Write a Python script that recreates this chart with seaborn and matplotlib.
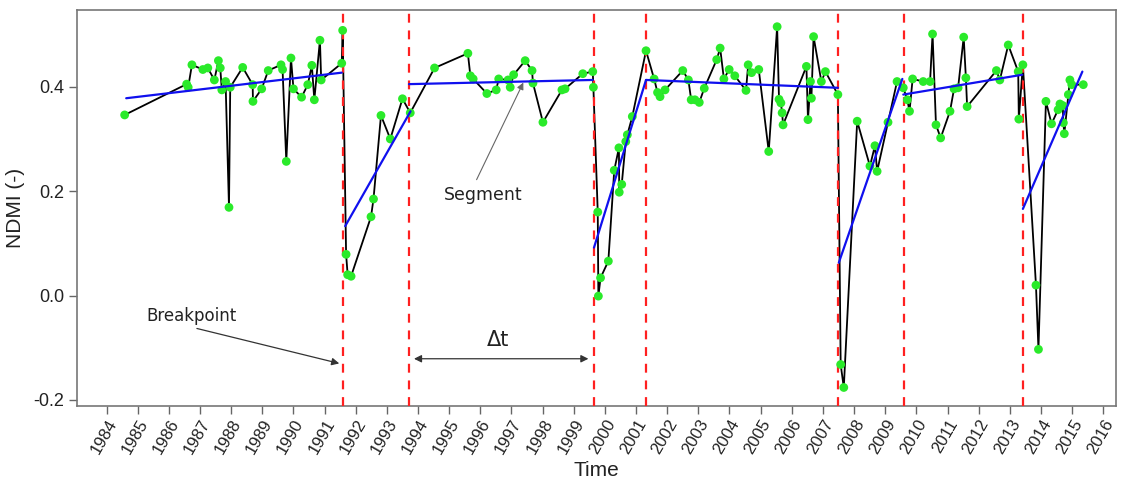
import matplotlib
matplotlib.use("Agg")
import matplotlib.pyplot as plt
import seaborn as sns
import pandas as pd

# ---- data ----
dates = [1984.58, 1986.57, 1986.62, 1986.74, 1987.09, 1987.25, 1987.46, 1987.59, 1987.65, 1987.70,
         1987.82, 1987.93, 1987.97, 1988.37, 1988.69, 1988.70, 1988.98, 1989.19, 1989.60, 1989.65,
         1989.77, 1989.92, 1990.00, 1990.26, 1990.46, 1990.59, 1990.67, 1990.85, 1990.89, 1991.55,
         1991.58,
         1991.69, 1991.74, 1991.85, 1992.49, 1992.57, 1992.81, 1993.11, 1993.50, 1993.75,
         1994.53, 1995.60, 1995.68, 1995.77, 1996.21, 1996.51, 1996.59, 1996.89, 1996.96, 1997.07,
         1997.44, 1997.66, 1997.69, 1998.01, 1998.62, 1998.72, 1999.29, 1999.61, 1999.63,
         1999.77, 1999.79, 1999.86, 2000.11, 2000.30, 2000.45, 2000.46, 2000.54, 2000.67, 2000.72,
         2000.88, 2001.32,
         2001.58, 2001.69, 2001.77, 2001.93, 2002.50, 2002.68, 2002.77, 2002.89, 2003.03, 2003.19,
         2003.59, 2003.70, 2003.82, 2003.99, 2004.17, 2004.53, 2004.60, 2004.71, 2004.94, 2005.26,
         2005.53, 2005.59, 2005.65, 2005.69, 2005.72, 2006.47, 2006.52, 2006.60, 2006.63, 2006.70,
         2006.95, 2007.08, 2007.48,
         2007.57, 2007.67, 2008.10, 2008.51, 2008.67, 2008.74, 2009.09, 2009.38,
         2009.58, 2009.71, 2009.78, 2009.88, 2010.22, 2010.44, 2010.52, 2010.63, 2010.78, 2011.08,
         2011.21, 2011.34, 2011.52, 2011.59, 2011.63, 2012.57, 2012.68, 2012.95, 2013.27, 2013.29,
         2013.42,
         2013.84, 2013.92, 2014.16, 2014.34, 2014.55, 2014.61, 2014.70, 2014.72, 2014.75, 2014.88,
         2014.93, 2014.99, 2015.36]
ndmi = [0.346, 0.405, 0.399, 0.442, 0.433, 0.436, 0.413, 0.450, 0.436, 0.394,
        0.410, 0.169, 0.399, 0.437, 0.404, 0.372, 0.396, 0.431, 0.442, 0.433,
        0.257, 0.455, 0.396, 0.380, 0.404, 0.441, 0.375, 0.489, 0.413, 0.445,
        0.508,
        0.079, 0.040, 0.037, 0.151, 0.185, 0.345, 0.300, 0.377, 0.350,
        0.436, 0.464, 0.421, 0.415, 0.387, 0.394, 0.415, 0.413, 0.399, 0.423,
        0.450, 0.431, 0.407, 0.332, 0.394, 0.396, 0.425, 0.429, 0.399,
        0.160, -0.001, 0.034, 0.066, 0.240, 0.283, 0.198, 0.213, 0.295, 0.308,
        0.343, 0.469,
        0.415, 0.389, 0.381, 0.394, 0.431, 0.413, 0.375, 0.375, 0.370, 0.397,
        0.452, 0.474, 0.415, 0.433, 0.421, 0.393, 0.442, 0.427, 0.433, 0.276,
        0.515, 0.376, 0.369, 0.350, 0.327, 0.439, 0.337, 0.410, 0.378, 0.496,
        0.410, 0.429, 0.385,
        -0.132, -0.176, 0.334, 0.248, 0.287, 0.238, 0.332, 0.410,
        0.398, 0.375, 0.353, 0.415, 0.410, 0.410, 0.501, 0.327, 0.302, 0.353,
        0.396, 0.398, 0.495, 0.417, 0.362, 0.431, 0.413, 0.480, 0.429, 0.338,
        0.442,
        0.020, -0.103, 0.372, 0.329, 0.356, 0.367, 0.364, 0.331, 0.310, 0.385,
        0.413, 0.404, 0.404]

breakpoints = [1991.59, 1993.71, 1999.65, 2001.32, 2007.48, 2009.60, 2013.41]

seg_start = [1984.63, 1991.66, 1993.71, 1999.65, 2001.32, 2007.51, 2009.58, 2013.42]
seg_end = [1991.55, 1993.76, 1999.61, 2001.32, 2007.48, 2009.55, 2013.40, 2015.33]
seg_y0 = [0.378, 0.133, 0.405, 0.092, 0.413, 0.063, 0.385, 0.166]
seg_y1 = [0.427, 0.353, 0.413, 0.413, 0.398, 0.415, 0.423, 0.429]

year_ticks = list(range(1984, 2017))
y_ticks = [-0.2, 0.0, 0.2, 0.4]
y_tick_labels = ["-0.2", "0.0", "0.2", "0.4"]

# ---- frames ----
obs = pd.DataFrame({"time": dates, "ndmi": ndmi})
seg_rows = []
for i in range(len(seg_start)):
    seg_rows.append({"seg": i, "time": seg_start[i], "ndmi": seg_y0[i]})
    seg_rows.append({"seg": i, "time": seg_end[i], "ndmi": seg_y1[i]})
segs = pd.DataFrame(seg_rows)

sns.set_theme(style="white")
axis_font = ["Liberation Sans", "DejaVu Sans"]
plt.rcParams["font.family"] = axis_font

fig = plt.figure(figsize=(11.26, 4.82), dpi=100)
ax = fig.add_axes([77 / 1126, 1 - 406 / 482, (1116 - 77) / 1126, (406 - 10) / 482])

sns.lineplot(data=obs, x="time", y="ndmi", ax=ax, color="black", linewidth=1.3,
             sort=False, estimator=None, zorder=2)
sns.scatterplot(data=obs, x="time", y="ndmi", ax=ax, color="#2aea2a", s=40,
                edgecolor="none", linewidth=0, zorder=4)
for b in breakpoints:
    ax.axvline(b, color="#ff2020", linestyle=(0, (4, 3.5)), linewidth=1.6, zorder=3)
sns.lineplot(data=segs, x="time", y="ndmi", units="seg", estimator=None, ax=ax,
             color="#1010ee", linewidth=1.6, sort=False, zorder=5)

ax.set_xlim(1983.05, 2016.41)
ax.set_ylim(-0.2115, 0.547)
ax.set_xticks(year_ticks)
ax.set_xticklabels([str(y) for y in year_ticks], rotation=60, ha="right",
                   rotation_mode="anchor", fontsize=12, color="#222222", family=axis_font)
ax.set_yticks(y_ticks)
ax.set_yticklabels(y_tick_labels, fontsize=13, color="#222222", family=axis_font)
ax.tick_params(axis="both", which="major", direction="out", length=6, width=1,
               color="#666666", bottom=True, left=True, pad=3)
ax.tick_params(axis="x", pad=2)
for sp in ax.spines.values():
    sp.set_color("#777777")
    sp.set_linewidth(1.2)
ax.set_xlabel("Time", fontsize=15, color="#222222", labelpad=3, family=axis_font)
ax.set_ylabel("NDMI (-)", fontsize=15, color="#222222", labelpad=6, family=axis_font)

ann_font = ["DejaVu Sans"]
ax.text(1986.74, -0.040, "Breakpoint", fontsize=12, family=ann_font,
        ha="center", va="center", color="#222222")
ax.annotate("", xy=(1991.47, -0.130), xytext=(1986.90, -0.063),
            arrowprops=dict(arrowstyle="-|>", color="#333333", lw=0.9,
                            mutation_scale=11, shrinkA=0, shrinkB=0))
ax.text(1996.57, -0.086, "Δt", fontsize=15, family=ann_font,
        ha="center", va="center", color="#222222")
ax.annotate("", xy=(1999.47, -0.121), xytext=(1993.87, -0.121),
            arrowprops=dict(arrowstyle="<|-|>", color="#333333", lw=0.9,
                            mutation_scale=11, shrinkA=0, shrinkB=0))
ax.text(1996.09, 0.192, "Segment", fontsize=12.5, family=ann_font,
        ha="center", va="center", color="#222222")
ax.annotate("", xy=(1997.38, 0.408), xytext=(1995.88, 0.222),
            arrowprops=dict(arrowstyle="-|>", color="#666666", lw=0.8,
                            mutation_scale=10, shrinkA=0, shrinkB=0))

fig.savefig("out.png", dpi=100)
